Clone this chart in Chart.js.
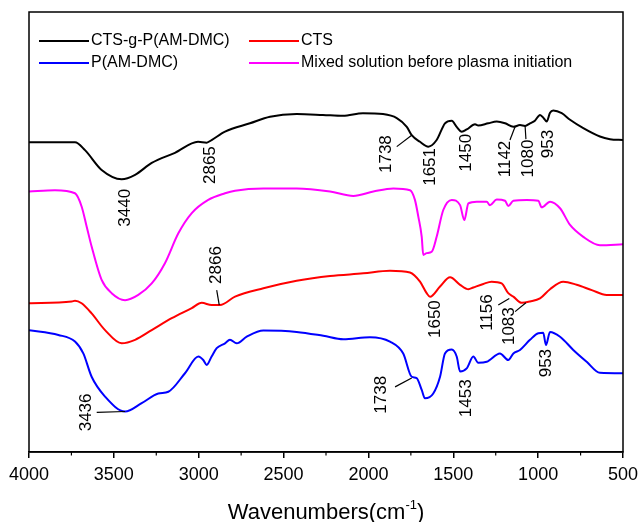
<!DOCTYPE html>
<html>
<head>
<meta charset="utf-8">
<script src="https://cdn.jsdelivr.net/npm/chart.js@4/dist/chart.umd.min.js"></script>
<style>
html,body{margin:0;padding:0;background:#fff;}
#wrap{width:638px;height:522px;}
</style>
</head>
<body>
<div id="wrap"><canvas id="c" width="638" height="522"></canvas></div>
<script>
// ---- Data (wavenumber in cm-1, transmittance in arbitrary offset units) ----
const seriesNames = ['CTS-g-P(AM-DMC)', 'CTS', 'P(AM-DMC)', 'Mixed solution before plasma initiation'];
const xTickValues = [4000, 3500, 3000, 2500, 2000, 1500, 1000, 500];

const graftWn = [4000,3729,3670,3572,3454,3375,3277,3140,3004,2953,2924,2845,2698,2580,2423,2268,2150,2032,1914,1833,1774,1745,1696,1647,1598,1549,1509,1480,1450,1421,1372,1353,1294,1244,1195,1146,1107,1077,1048,1019,989,966,950,930,911,861,812,734,636,577,500];
const graftT  = [70.4,70.4,68.6,64.1,62.0,63.0,65.7,68.0,70.5,70.3,70.9,72.8,74.7,76.2,76.8,76.6,76.4,77.0,76.8,75.9,73.9,72.0,70.5,69.4,70.9,74.7,75.3,73.9,72.8,73.3,74.5,74.2,74.7,75.1,74.7,73.9,74.3,74.1,74.7,75.3,76.6,75.8,75.1,77.1,77.6,77.0,75.5,73.6,71.7,71.1,70.9];

const ctsWn = [4000,3748,3729,3690,3631,3552,3454,3375,3277,3159,3041,2982,2924,2875,2786,2619,2423,2226,2030,1873,1755,1696,1657,1637,1578,1519,1460,1411,1382,1323,1274,1215,1176,1146,1097,1048,989,930,852,773,684,596,500];
const ctsT  = [33.8,34.2,34.4,33.8,31.5,27.7,24.7,25.5,27.7,30.4,32.7,33.9,33.4,33.4,35.3,37.2,38.9,40.0,40.6,41.2,40.8,38.7,36.1,35.3,37.6,39.7,38.0,37.0,37.4,38.2,38.7,38.3,36.1,35.3,33.9,34.2,34.9,37.0,38.7,38.0,36.8,35.7,35.7];

const pamWn = [4000,3827,3729,3680,3631,3552,3434,3336,3238,3179,3081,3002,2973,2953,2924,2894,2845,2816,2776,2717,2619,2423,2266,2148,1991,1873,1795,1745,1716,1686,1667,1618,1578,1549,1509,1480,1460,1421,1382,1353,1303,1225,1176,1146,1107,1048,999,970,954,930,871,793,714,636,500];
const pamT  = [27.7,26.6,25.1,22.4,17.1,12.6,9.2,11.1,13.3,13.7,17.9,21.7,20.9,19.8,21.7,23.6,24.7,25.5,24.7,26.2,27.6,27.3,26.4,25.6,26.1,25.1,22.4,17.1,16.8,14.1,12.2,13.3,17.1,22.4,23.3,21.7,18.3,19.0,21.7,20.3,20.5,22.4,20.9,22.4,23.2,25.5,27.0,27.1,24.3,27.3,26.2,23.2,20.5,18.0,17.9];

const mixWn = [4000,3847,3729,3690,3660,3631,3572,3513,3434,3356,3277,3199,3120,3041,2944,2845,2786,2619,2423,2226,2089,1971,1853,1755,1726,1706,1686,1677,1657,1627,1598,1559,1509,1460,1435,1411,1362,1303,1284,1244,1195,1176,1146,1067,999,979,930,871,812,734,636,500];
const mixT  = [59.2,59.5,58.8,55.8,51.2,46.7,39.1,36.1,34.5,35.7,38.3,42.9,49.7,54.3,57.3,58.8,59.4,59.9,59.9,59.2,58.2,59.2,59.9,59.5,57.3,53.5,48.9,44.8,45.2,45.5,48.9,55.0,57.3,56.1,52.7,56.5,56.9,56.9,56.1,57.4,57.1,55.9,57.1,57.3,57.1,55.6,56.9,55.4,51.6,48.9,47.0,47.2];

const seriesColors = ['#000000', '#ff0000', '#0000ff', '#ff00ff'];

// Peak labels: text, centre (wn, T), optional leader line
const peakLabels = [
  {t:'3440', wn:3431, v:55.5},
  {t:'2865', wn:2931, v:65.2},
  {t:'1738', wn:1892, v:67.7, from:[1833,69.4], to:[1745,72.0]},
  {t:'1651', wn:1637, v:64.8},
  {t:'1450', wn:1421, v:68.0},
  {t:'1142', wn:1191, v:66.6, from:[1166,70.9], to:[1136,73.9]},
  {t:'1080', wn:1058, v:66.7, from:[1072,71.1], to:[1077,74.1]},
  {t:'953',  wn:940,  v:70.0},
  {t:'2866', wn:2894, v:42.5, from:[2894,36.8], to:[2879,33.4]},
  {t:'1650', wn:1608, v:30.2},
  {t:'1156', wn:1298, v:31.7, from:[1235,33.4], to:[1170,34.9]},
  {t:'1083', wn:1172, v:28.6, from:[1136,31.9], to:[1072,33.9]},
  {t:'3436', wn:3664, v:9.0,  from:[3601,9.0], to:[3434,9.2]},
  {t:'1738', wn:1922, v:13.0, from:[1843,14.8], to:[1745,16.8]},
  {t:'1453', wn:1423, v:12.2},
  {t:'953',  wn:950,  v:20.2}
];

const FONT = "'Liberation Sans', Arial, sans-serif";

function pts(wn, t){ return wn.map((w,i)=>({x:w, y:t[i]})); }

const framePlugin = {
  id:'frame',
  afterDatasetsDraw(chart){
    const {ctx, chartArea:a, scales:{x, y}} = chart;
    ctx.save();
    // frame
    ctx.strokeStyle = '#000'; ctx.lineWidth = 1.5;
    ctx.strokeRect(a.left, a.top, a.right - a.left, a.bottom - a.top);
    // minor ticks
    ctx.lineWidth = 1.2;
    for (let w = 750; w < 4000; w += 500) {
      const px = x.getPixelForValue(w);
      ctx.beginPath(); ctx.moveTo(px, a.bottom); ctx.lineTo(px, a.bottom + 3.5); ctx.stroke();
    }
    // peak labels
    ctx.fillStyle = '#000'; ctx.lineWidth = 1.2;
    ctx.font = '17px ' + FONT;
    ctx.textAlign = 'center'; ctx.textBaseline = 'middle';
    peakLabels.forEach(p => {
      const px = x.getPixelForValue(p.wn), py = y.getPixelForValue(p.v);
      ctx.save(); ctx.translate(px, py); ctx.rotate(-Math.PI/2);
      ctx.fillText(p.t, 0, 0); ctx.restore();
      if (p.from) {
        ctx.beginPath();
        ctx.moveTo(x.getPixelForValue(p.from[0]), y.getPixelForValue(p.from[1]));
        ctx.lineTo(x.getPixelForValue(p.to[0]), y.getPixelForValue(p.to[1]));
        ctx.stroke();
      }
    });
    // legend
    const ds = chart.data.datasets;
    const slots = [[39, 41], [249, 41], [39, 63], [249, 63]];
    ctx.textAlign = 'left'; ctx.font = '16px ' + FONT;
    ds.forEach((d, i) => {
      const [lx, ly] = slots[i];
      ctx.strokeStyle = d.borderColor; ctx.lineWidth = 2;
      ctx.beginPath(); ctx.moveTo(lx, ly); ctx.lineTo(lx + 50, ly); ctx.stroke();
      ctx.fillStyle = '#000';
      ctx.fillText(d.label, lx + 52, ly);
    });
    // axis title with superscript
    const cx = (a.left + a.right) / 2, ty = 511;
    ctx.font = '22px ' + FONT;
    const s1 = 'Wavenumbers(cm', s2 = '-1', s3 = ')';
    const w1 = ctx.measureText(s1).width, w3 = ctx.measureText(s3).width;
    ctx.font = '13px ' + FONT;
    const w2 = ctx.measureText(s2).width;
    let sx = cx - (w1 + w2 + w3) / 2;
    ctx.textBaseline = 'alphabetic';
    ctx.font = '22px ' + FONT; ctx.fillText(s1, sx, ty + 8);
    ctx.font = '13px ' + FONT; ctx.fillText(s2, sx + w1, ty - 2);
    ctx.font = '22px ' + FONT; ctx.fillText(s3, sx + w1 + w2, ty + 8);
    ctx.restore();
  }
};

new Chart(document.getElementById('c'), {
  type:'line',
  data:{
    datasets:[
      {label:seriesNames[0], data:pts(graftWn, graftT), borderColor:seriesColors[0]},
      {label:seriesNames[1], data:pts(ctsWn, ctsT), borderColor:seriesColors[1]},
      {label:seriesNames[2], data:pts(pamWn, pamT), borderColor:seriesColors[2]},
      {label:seriesNames[3], data:pts(mixWn, mixT), borderColor:seriesColors[3]}
    ]
  },
  options:{
    responsive:false, animation:false, devicePixelRatio:1,
    layout:{padding:{left:29, right:15, top:12, bottom:0}},
    elements:{
      point:{radius:0},
      line:{borderWidth:2, cubicInterpolationMode:'monotone', fill:false}
    },
    plugins:{legend:{display:false}, tooltip:{enabled:false}},
    scales:{
      x:{
        type:'linear', reverse:true, min:500, max:4000,
        afterBuildTicks(s){ s.ticks = xTickValues.map(v=>({value:v})); },
        ticks:{font:{family:FONT, size:18}, color:'#000', padding:6, maxRotation:0, autoSkip:false,
               callback:(v)=>String(v)},
        grid:{drawOnChartArea:false, drawTicks:true, tickLength:6, color:'#000', lineWidth:1.5},
        border:{display:true, color:'#000', width:1.5},
        afterFit(s){ s.height = 70; s.paddingLeft = 0; s.paddingRight = 0; }
      },
      y:{display:false, min:0, max:100}
    }
  },
  plugins:[framePlugin]
});
</script>
</body>
</html>
